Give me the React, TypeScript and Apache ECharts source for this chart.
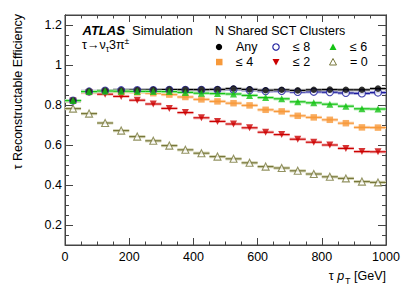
import React, { useEffect, useRef } from "react";
import * as echarts from "echarts";

const FONT = '"Liberation Sans", Arial, Helvetica, sans-serif';

// bin centres in GeV (50 GeV wide bins)
const binCenters = [25, 75, 125, 175, 225, 275, 325, 375, 425, 475, 525, 575, 625, 675, 725, 775, 825, 875, 925, 975];
const binWidth = 50;

const effAny = [0.822, 0.868, 0.872, 0.874, 0.875, 0.876, 0.877, 0.877, 0.877, 0.878, 0.882, 0.878, 0.874, 0.876, 0.873, 0.876, 0.877, 0.876, 0.876, 0.882];
const effLe8 = [0.822, 0.868, 0.872, 0.874, 0.875, 0.875, 0.876, 0.876, 0.876, 0.876, 0.878, 0.874, 0.869, 0.870, 0.865, 0.866, 0.864, 0.860, 0.858, 0.862];
const effLe6 = [0.822, 0.867, 0.870, 0.869, 0.868, 0.868, 0.867, 0.863, 0.859, 0.857, 0.855, 0.848, 0.837, 0.831, 0.816, 0.811, 0.804, 0.794, 0.781, 0.780];
const effLe4 = [0.821, 0.865, 0.868, 0.865, 0.863, 0.859, 0.852, 0.840, 0.828, 0.818, 0.809, 0.798, 0.776, 0.768, 0.746, 0.738, 0.726, 0.709, 0.688, 0.687];
const effLe2 = [0.820, 0.862, 0.854, 0.843, 0.824, 0.805, 0.783, 0.762, 0.736, 0.718, 0.705, 0.686, 0.664, 0.652, 0.629, 0.614, 0.600, 0.583, 0.567, 0.566];
const effEq0 = [0.782, 0.757, 0.710, 0.672, 0.642, 0.621, 0.597, 0.576, 0.559, 0.542, 0.531, 0.511, 0.492, 0.485, 0.471, 0.455, 0.441, 0.433, 0.417, 0.413];

const xMin = 0;
const xMax = 1000;
const xInterval = 200;
const yMin = 0.1;
const yMax = 1.25;
const yMajorTicks = [0.2, 0.4, 0.6, 0.8, 1.0, 1.2];
const yMinorTicks = [0.15, 0.25, 0.3, 0.35, 0.45, 0.5, 0.55, 0.65, 0.7, 0.75, 0.85, 0.9, 0.95, 1.05, 1.1, 1.15];

const downTri = "path://M0,0L10,0L5,8.66Z";

type SeriesDef = {
  name: string;
  values: number[];
  color: string;
  band: string;
  symbol: string;
  size: number;
  fill: string;
};

const defs: SeriesDef[] = [
  { name: "= 0", values: effEq0, color: "#77773a", band: "#d6d6b8", symbol: "triangle", size: 7, fill: "#ffffff" },
  { name: "≤ 2", values: effLe2, color: "#cc0000", band: "#f4bcbc", symbol: downTri, size: 7, fill: "#cc0000" },
  { name: "≤ 4", values: effLe4, color: "#f7993a", band: "#fcd6b2", symbol: "rect", size: 6.5, fill: "#f7993a" },
  { name: "≤ 8", values: effLe8, color: "#1a1a9c", band: "#aaaadc", symbol: "circle", size: 7, fill: "#ffffff" },
  { name: "Any", values: effAny, color: "#000000", band: "#b4b4b4", symbol: "circle", size: 6.5, fill: "#000000" },
  { name: "≤ 6", values: effLe6, color: "#14c314", band: "#b0ecb0", symbol: "triangle", size: 7, fill: "#14c314" },
];

const axisColor = "#444";

export default function App() {
  const ref = useRef<HTMLDivElement>(null);
  useEffect(() => {
    if (!ref.current) return;
    const chart = echarts.init(ref.current, undefined, { renderer: "svg" });

    const series: any[] = [];
    defs.forEach((d, k) => {
      const data = binCenters.map((c, i) => [c, d.values[i]]);
      series.push({
        type: "custom",
        name: d.name + " bins",
        data,
        z: 2 + k * 0.01,
        encode: { x: 0, y: 1 },
        renderItem: (params: any, api: any) => {
          const x = api.value(0);
          const y = api.value(1);
          const p0 = api.coord([x - binWidth / 2, y]);
          const p1 = api.coord([x + binWidth / 2, y]);
          return {
            type: "group",
            children: [
              {
                type: "rect",
                shape: { x: p0[0], y: p0[1] - 1.6, width: p1[0] - p0[0], height: 3.2 },
                style: { fill: d.band },
              },
              {
                type: "line",
                shape: { x1: p0[0], y1: p0[1], x2: p1[0], y2: p1[1] },
                style: { stroke: d.color, lineWidth: 1.2 },
              },
            ],
          };
        },
      });
    });
    defs.forEach((d, k) => {
      const data = binCenters.map((c, i) => [c, d.values[i]]);
      series.push({
        type: "scatter",
        name: d.name,
        data,
        z: 5 + k * 0.01,
        symbol: d.symbol,
        symbolSize: d.size,
        itemStyle: { color: d.fill, borderColor: d.color, borderWidth: d.fill === "#ffffff" ? 1.1 : 0 },
      });
    });

    const txt = (text: string, x: number, y: number, extra: any = {}) => ({
      type: "text",
      x,
      y,
      style: { text, fill: "#000", fontFamily: FONT, fontSize: 12.5, verticalAlign: "middle", align: "left", ...extra },
    });

    const legendMarkers: any[] = [
      { type: "circle", shape: { cx: 219, cy: 47, r: 3.2 }, style: { fill: "#000" } },
      { type: "circle", shape: { cx: 276, cy: 47, r: 3.2 }, style: { fill: "#fff", stroke: "#1a1a9c", lineWidth: 1.1 } },
      { type: "polygon", shape: { points: [[333, 43.5], [336.5, 50], [329.5, 50]] }, style: { fill: "#14c314" } },
      { type: "rect", shape: { x: 216, y: 58.8, width: 6.5, height: 6.5 }, style: { fill: "#f7993a" } },
      { type: "polygon", shape: { points: [[272.5, 59], [279.5, 59], [276, 65.5]] }, style: { fill: "#cc0000" } },
      { type: "polygon", shape: { points: [[333, 58.5], [336.5, 65], [329.5, 65]] }, style: { fill: "#fff", stroke: "#77773a", lineWidth: 1 } },
    ];

    const graphic: any[] = [
      txt("ATLAS", 82.5, 30, { fontWeight: "bold", fontStyle: "italic", fontSize: 13 }),
      txt("Simulation", 132, 30, { fontSize: 13 }),
      {
        type: "text",
        x: 82,
        y: 45,
        style: {
          text: "{a|τ→ν}{s|τ}{a|3π}{u|±}",
          fill: "#000",
          verticalAlign: "middle",
          align: "left",
          rich: {
            a: { fontFamily: FONT, fontSize: 12.5, fill: "#000" },
            s: { fontFamily: FONT, fontSize: 8.5, fill: "#000", padding: [7, 0, 0, 0] },
            u: { fontFamily: FONT, fontSize: 8.5, fill: "#000", padding: [0, 0, 8, 0] },
          },
        },
      },
      txt("N Shared SCT Clusters", 215, 31),
      txt("Any", 236, 47),
      txt("≤ 8", 293, 47),
      txt("≤ 6", 350, 47),
      txt("≤ 4", 236, 62),
      txt("≤ 2", 293, 62),
      txt("= 0", 350, 62),
      ...legendMarkers,
      {
        type: "text",
        x: 386,
        y: 276,
        style: {
          text: "{a|τ }{p|p}{s|T}{a| [GeV]}",
          fill: "#000",
          verticalAlign: "middle",
          align: "right",
          rich: {
            a: { fontFamily: FONT, fontSize: 12.5, fill: "#000" },
            p: { fontFamily: FONT, fontSize: 12.5, fontStyle: "italic", fill: "#000" },
            s: { fontFamily: FONT, fontSize: 9, fill: "#000", padding: [9, 0, 0, 1] },
          },
        },
      },
      {
        type: "text",
        x: 18,
        y: 14,
        rotation: Math.PI / 2,
        style: {
          text: "τ Reconstructable Efficiency",
          fill: "#000",
          fontFamily: FONT,
          fontSize: 12.5,
          align: "right",
          verticalAlign: "middle",
        },
      },
    ];

    const xAxisBase = {
      type: "value",
      min: xMin,
      max: xMax,
      interval: xInterval,
      axisLine: { show: true, onZero: false, lineStyle: { color: axisColor, width: 1 } },
      axisTick: { show: true, inside: true, length: 7, lineStyle: { color: axisColor } },
      minorTick: { show: true, splitNumber: 4, length: 3.5, lineStyle: { color: axisColor } },
      splitLine: { show: false },
      minorSplitLine: { show: false },
    };
    const yAxisBase = {
      type: "value",
      min: yMin,
      max: yMax,
      axisLine: { show: true, onZero: false, lineStyle: { color: axisColor, width: 1 } },
      splitLine: { show: false },
    };

    chart.setOption({
      animation: false,
      backgroundColor: "#ffffff",
      grid: {
        left: 65,
        right: 21,
        top: 15,
        bottom: 47,
        show: true,
        borderColor: axisColor,
        borderWidth: 1,
        backgroundColor: "#fff",
        containLabel: false,
        outerBoundsMode: "none",
      },
      xAxis: [
        {
          ...xAxisBase,
          position: "bottom",
          axisLabel: {
            show: true,
            color: "#000",
            fontFamily: FONT,
            fontSize: 12.5,
            margin: 5,
            formatter: (v: number) => String(Math.round(v)),
          },
        },
        {
          ...xAxisBase,
          position: "top",
          axisLabel: { show: false },
        },
      ],
      yAxis: [
        {
          ...yAxisBase,
          position: "left",
          axisTick: { show: true, inside: true, length: 8, customValues: yMajorTicks, lineStyle: { color: axisColor } },
          axisLabel: {
            show: true,
            customValues: yMajorTicks,
            color: "#000",
            fontFamily: FONT,
            fontSize: 12.5,
            margin: 3,
            formatter: (v: number) => String(Math.round(v * 10) / 10),
          },
        },
        {
          ...yAxisBase,
          position: "left",
          axisTick: { show: true, inside: true, length: 4, customValues: yMinorTicks, lineStyle: { color: axisColor } },
          axisLabel: { show: false },
        },
        {
          ...yAxisBase,
          position: "right",
          axisTick: { show: true, inside: true, length: 8, customValues: yMajorTicks, lineStyle: { color: axisColor } },
          axisLabel: { show: false },
        },
        {
          ...yAxisBase,
          position: "right",
          axisTick: { show: true, inside: true, length: 4, customValues: yMinorTicks, lineStyle: { color: axisColor } },
          axisLabel: { show: false },
        },
      ],
      series,
      graphic,
    });

    return () => chart.dispose();
  }, []);

  return (
    <div
      ref={ref}
      style={{ position: "absolute", left: 0, top: 0, width: 407, height: 292, background: "#fff" }}
    />
  );
}
